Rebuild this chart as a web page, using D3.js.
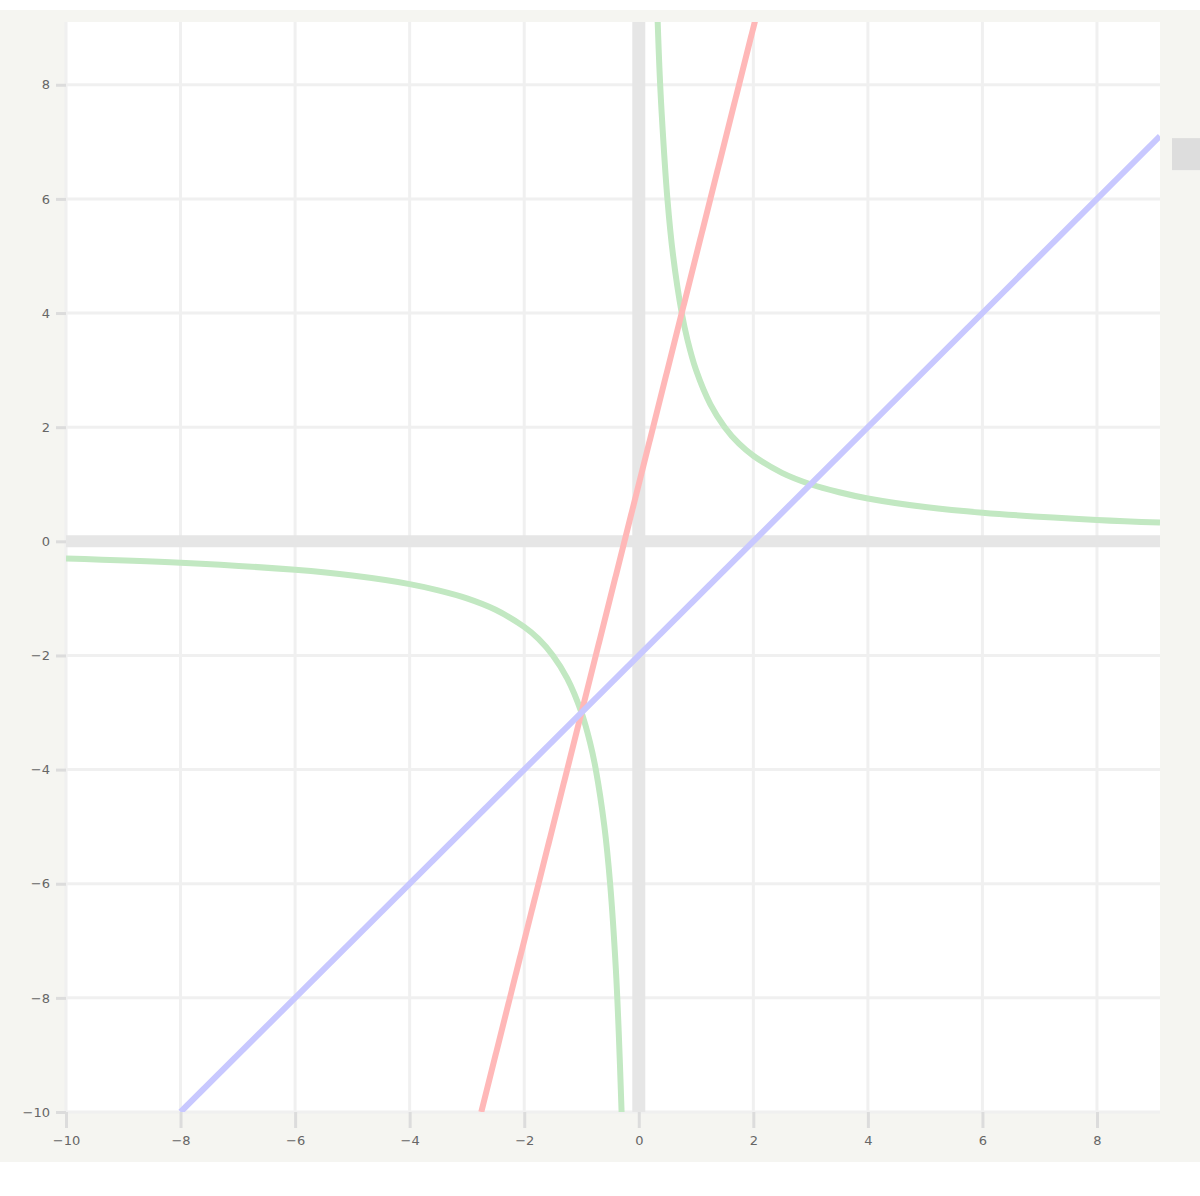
<!DOCTYPE html>
<html>
<head>
<meta charset="utf-8">
<script src="https://cdn.jsdelivr.net/npm/d3@7"></script>
<style>
  body { margin: 0; background: #ffffff; }
  svg { display: block; }
</style>
</head>
<body>
<div id="chart"></div>
<script>
// tick values on both axes
var xTicks = [-10, -8, -6, -4, -2, 0, 2, 4, 6, 8];
var yTicks = [-10, -8, -6, -4, -2, 0, 2, 4, 6, 8];

// straight lines, end points
var blueLine = [[-8, -10], [9.1, 7.1]];
var redLine = [[-2.75, -10], [2.05, 9.2]];

// hyperbola, two branches
var greenLeft = [[-10, -0.3], [-8, -0.375], [-6, -0.5], [-5, -0.6], [-4, -0.75], [-3.5, -0.86],
  [-3, -1], [-2.5, -1.2], [-2, -1.5], [-1.75, -1.71], [-1.5, -2], [-1.25, -2.4], [-1, -3],
  [-0.85, -3.53], [-0.75, -4], [-0.6, -5], [-0.5, -6], [-0.4, -7.5], [-0.35, -8.6], [-0.3, -10]];
var greenRight = [[0.33, 9.1], [0.36, 8.3], [0.4, 7.5], [0.5, 6], [0.6, 5], [0.75, 4], [0.85, 3.53],
  [1, 3], [1.25, 2.4], [1.5, 2], [1.75, 1.71], [2, 1.5], [2.5, 1.2], [3, 1], [3.5, 0.86],
  [4, 0.75], [5, 0.6], [6, 0.5], [8, 0.375], [9.1, 0.33]];

const W = 1200, H = 1196;
const plotLeft = 66, plotRight = 1160, plotTop = 22, plotBottom = 1112;

var svg = d3.select("#chart").append("svg")
  .attr("width", W)
  .attr("height", H);

svg.append("rect")
  .attr("x", 0).attr("y", 10)
  .attr("width", W).attr("height", 1152)
  .attr("fill", "#f5f5f1");

var x = d3.scaleLinear().domain([-10, 9.1]).range([plotLeft, plotRight]);
var y = d3.scaleLinear().domain([-10, 9.1]).range([plotBottom, plotTop]);

// plot area
svg.append("rect")
  .attr("x", plotLeft).attr("y", plotTop)
  .attr("width", plotRight - plotLeft).attr("height", plotBottom - plotTop)
  .attr("fill", "#ffffff");

svg.append("clipPath").attr("id", "clip")
  .append("rect")
  .attr("x", plotLeft).attr("y", plotTop)
  .attr("width", plotRight - plotLeft).attr("height", plotBottom - plotTop);

// grid
svg.append("g")
  .selectAll("line")
  .data(xTicks.filter(function (d) { return d !== 0; }))
  .enter().append("line")
  .attr("x1", function (d) { return x(d); })
  .attr("x2", function (d) { return x(d); })
  .attr("y1", plotTop).attr("y2", plotBottom)
  .style("stroke", "#f0f0f0")
  .style("stroke-width", 3);

svg.append("g")
  .selectAll("line")
  .data(yTicks.filter(function (d) { return d !== 0; }))
  .enter().append("line")
  .attr("y1", function (d) { return y(d); })
  .attr("y2", function (d) { return y(d); })
  .attr("x1", plotLeft).attr("x2", plotRight)
  .style("stroke", "#f0f0f0")
  .style("stroke-width", 3);

// zero axes
svg.append("line")
  .attr("x1", x(0)).attr("x2", x(0))
  .attr("y1", plotTop).attr("y2", plotBottom)
  .style("stroke", "#e6e6e6").style("stroke-width", 13);
svg.append("line")
  .attr("y1", y(0)).attr("y2", y(0))
  .attr("x1", plotLeft).attr("x2", plotRight)
  .style("stroke", "#e6e6e6").style("stroke-width", 12);

// axes with ticks + labels
var xAxis = d3.axisBottom(x).tickValues(xTicks).tickSize(16).tickPadding(8)
  .tickFormat(d3.format("d"));
var gx = svg.append("g")
  .attr("transform", "translate(0," + plotBottom + ")")
  .call(xAxis);

var yAxis = d3.axisLeft(y).tickValues(yTicks).tickSize(10).tickPadding(6)
  .tickFormat(d3.format("d"));
var gy = svg.append("g")
  .attr("transform", "translate(" + plotLeft + ",0)")
  .call(yAxis);

[gx, gy].forEach(function (g) {
  g.select(".domain").remove();
  g.selectAll(".tick line").style("stroke", "#dcdcdc").style("stroke-width", 3);
  g.selectAll(".tick text")
    .style("font-family", "DejaVu Sans, sans-serif")
    .style("font-size", "13px")
    .attr("fill", "#666666");
});

// curves
var line = d3.line()
  .x(function (d) { return x(d[0]); })
  .y(function (d) { return y(d[1]); });
var smooth = d3.line()
  .x(function (d) { return x(d[0]); })
  .y(function (d) { return y(d[1]); })
  .curve(d3.curveCatmullRom);

var plot = svg.append("g").attr("clip-path", "url(#clip)");

plot.append("path").datum(greenLeft)
  .attr("d", smooth).attr("fill", "none")
  .style("stroke", "#c2e8c2").style("stroke-width", 6);
plot.append("path").datum(greenRight)
  .attr("d", smooth).attr("fill", "none")
  .style("stroke", "#c2e8c2").style("stroke-width", 6);
plot.append("path").datum(redLine)
  .attr("d", line).attr("fill", "none")
  .style("stroke", "#ffb8b8").style("stroke-width", 6);
plot.append("path").datum(blueLine)
  .attr("d", line).attr("fill", "none")
  .style("stroke", "#c8c8ff").style("stroke-width", 6);

// small label box clipped at the right edge
svg.append("rect")
  .attr("x", 1172).attr("y", y(7.1) + 2)
  .attr("width", 30).attr("height", 32)
  .attr("fill", "#dddddd");
</script>
</body>
</html>
